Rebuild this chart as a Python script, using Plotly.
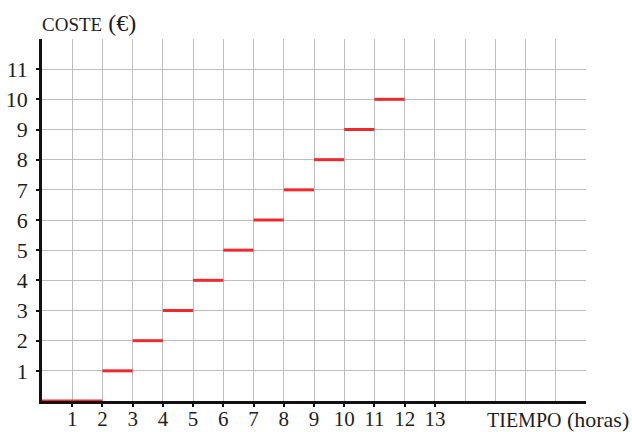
import plotly.graph_objects as go

# Data: step function of cost vs. time
step_start = [0, 2, 3, 4, 5, 6, 7, 8, 9, 10, 11]
step_end = [2, 3, 4, 5, 6, 7, 8, 9, 10, 11, 12]
cost = [0, 1, 2, 3, 4, 5, 6, 7, 8, 9, 10]
x_ticks = list(range(1, 14))
y_ticks = list(range(1, 12))

xs, ys = [], []
for a, b, c in zip(step_start, step_end, cost):
    xs += [a, b, None]
    ys += [c, c, None]

FONT = "Liberation Serif"
GRID = "#bdbdbd"
INK = "#1e1e1e"

fig = go.Figure()
fig.add_trace(go.Scatter(x=xs, y=ys, mode="lines",
                         line=dict(color="#ee2a2e", width=3),
                         hoverinfo="skip", showlegend=False, cliponaxis=False))

axis_common = dict(
    showgrid=True, gridcolor=GRID, gridwidth=1.3,
    minor=dict(tick0=0, dtick=1, showgrid=True, gridcolor=GRID, gridwidth=1.3, ticklen=0),
    showline=True, linecolor="#111", linewidth=2.5,
    ticks="outside", ticklen=3, tickwidth=2, tickcolor="#111",
    zeroline=False, fixedrange=True, automargin=False,
    layer="below traces",
)

fig.update_layout(
    width=632, height=432,
    margin=dict(l=42, r=46, t=39, b=31, autoexpand=False),
    paper_bgcolor="white", plot_bgcolor="white",
    font=dict(family=FONT, size=22, color=INK),
    showlegend=False,
    xaxis=dict(range=[0, 18], tickvals=x_ticks, ticktext=[str(v) for v in x_ticks],
               ticklabelstandoff=-6, tickfont=dict(family=FONT, size=21, color=INK),
               **axis_common),
    yaxis=dict(range=[0, 12], tickvals=y_ticks, ticktext=[str(v) for v in y_ticks],
               ticklabelstandoff=4, tickfont=dict(family=FONT, size=22, color=INK),
               **axis_common),
    annotations=[
        dict(text="<span style='font-size:19px'>COSTE</span> (€)", xref="paper", yref="paper",
             x=-0.003, y=1.045, xanchor="left", yanchor="middle", showarrow=False,
             font=dict(family=FONT, size=24, color=INK)),
        dict(text="<span style='font-size:20px'>TIEMPO</span> (horas)", xref="paper", yref="paper",
             x=1.082, y=-0.05, xanchor="right", yanchor="middle", showarrow=False,
             font=dict(family=FONT, size=22, color=INK)),
    ],
)

fig.write_html("out.html", config={"displayModeBar": False},
               post_script="document.body.style.margin='0';document.body.style.overflow='hidden';")
